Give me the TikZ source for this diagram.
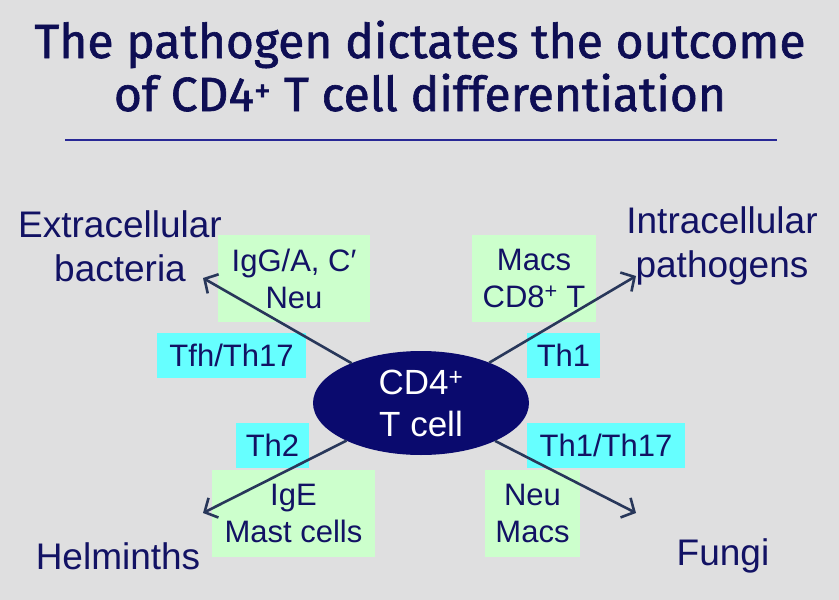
\documentclass[tikz,border=0pt]{standalone}
\usepackage{fontspec}
\setmainfont{Liberation Sans}
\newfontfamily\titlefont[FakeBold=1.3]{Fira Sans}
\usetikzlibrary{shapes.geometric,arrows.meta}
\definecolor{bg}{RGB}{223,223,224}
\definecolor{navy}{RGB}{18,18,100}
\definecolor{titlec}{RGB}{14,14,84}
\definecolor{cellfill}{RGB}{10,10,110}
\definecolor{pgreen}{RGB}{204,255,204}
\definecolor{pcyan}{RGB}{102,255,255}
\definecolor{arr}{RGB}{40,55,90}
\definecolor{rulec}{RGB}{40,40,150}
\tikzset{
  every node/.style={inner sep=0pt, outer sep=0pt},
  titletext/.style={text=titlec, font=\titlefont\fontsize{48}{54}\selectfont, anchor=base},
  pathogen/.style={text=navy, font=\fontsize{37}{44}\selectfont, align=center},
  effbox/.style={fill=pgreen, text=navy, font=\fontsize{31}{37}\selectfont, align=center, minimum height=87pt},
  thbox/.style={fill=pcyan, text=navy, font=\fontsize{31}{37}\selectfont, align=center, minimum height=45pt},
  cellnode/.style={ellipse, fill=cellfill, text=white, font=\fontsize{35}{42}\selectfont, align=center, minimum width=216pt, minimum height=104pt},
  outarrow/.style={draw=arr, line width=2.6pt, -{Straight Barb[length=10pt,width=22pt,line width=2.6pt]}}
}
\begin{document}
\begin{tikzpicture}[x=1pt,y=-1pt]
\fill[bg] (0,0) rectangle (839,600);
\useasboundingbox (0,0) rectangle (839,600);
% title
\node[titletext] (t1) at (420,58) {The pathogen dictates the outcome};
\node[titletext] (t2) at (420,111) {of CD4\textsuperscript{+} T cell differentiation};
\coordinate (r1) at (65,140);
\coordinate (r2) at (777,140);
\draw[rulec, line width=2.5pt] (r1) -- (r2);
% pathogens
\node[pathogen] (exb) at (120,246) {Extracellular\\bacteria};
\node[pathogen] (inp) at (722,246) {Intracellular\\pathogens};
\node[pathogen] (hel) at (118,556) {Helminths};
\node[pathogen] (fun) at (723,556) {Fungi};
% effector boxes
\node[effbox, minimum width=152pt] (g1) at (294,278.5) {IgG/A, C′\\Neu};
\node[effbox, minimum width=124pt] (g2) at (534,278.5) {Macs\\CD8\textsuperscript{+} T};
\node[effbox, minimum width=163pt] (g3) at (293.5,513.5) {IgE\\Mast cells};
\node[effbox, minimum width=95pt] (g4) at (532.5,513.5) {Neu\\Macs};
% Th boxes
\node[thbox, minimum width=149pt] (c1) at (231.5,355.5) {Tfh/Th17};
\node[thbox, minimum width=73pt] (c2) at (563.5,355.5) {Th1};
\node[thbox, minimum width=73pt] (c3) at (272.5,445.5) {Th2};
\node[thbox, minimum width=158pt] (c4) at (606,445.5) {Th1/Th17};
% cell
\node[cellnode] (cell) at (421,403) {CD4\textsuperscript{+}\\T cell};
% arrows
\coordinate (aNW) at (203,278);
\coordinate (aNE) at (636,276);
\coordinate (aSW) at (203,513);
\coordinate (aSE) at (636,513);
\draw[outarrow] (cell) -- (aNW);
\draw[outarrow] (cell) -- (aNE);
\draw[outarrow] (cell) -- (aSW);
\draw[outarrow] (cell) -- (aSE);
\end{tikzpicture}
\end{document}
